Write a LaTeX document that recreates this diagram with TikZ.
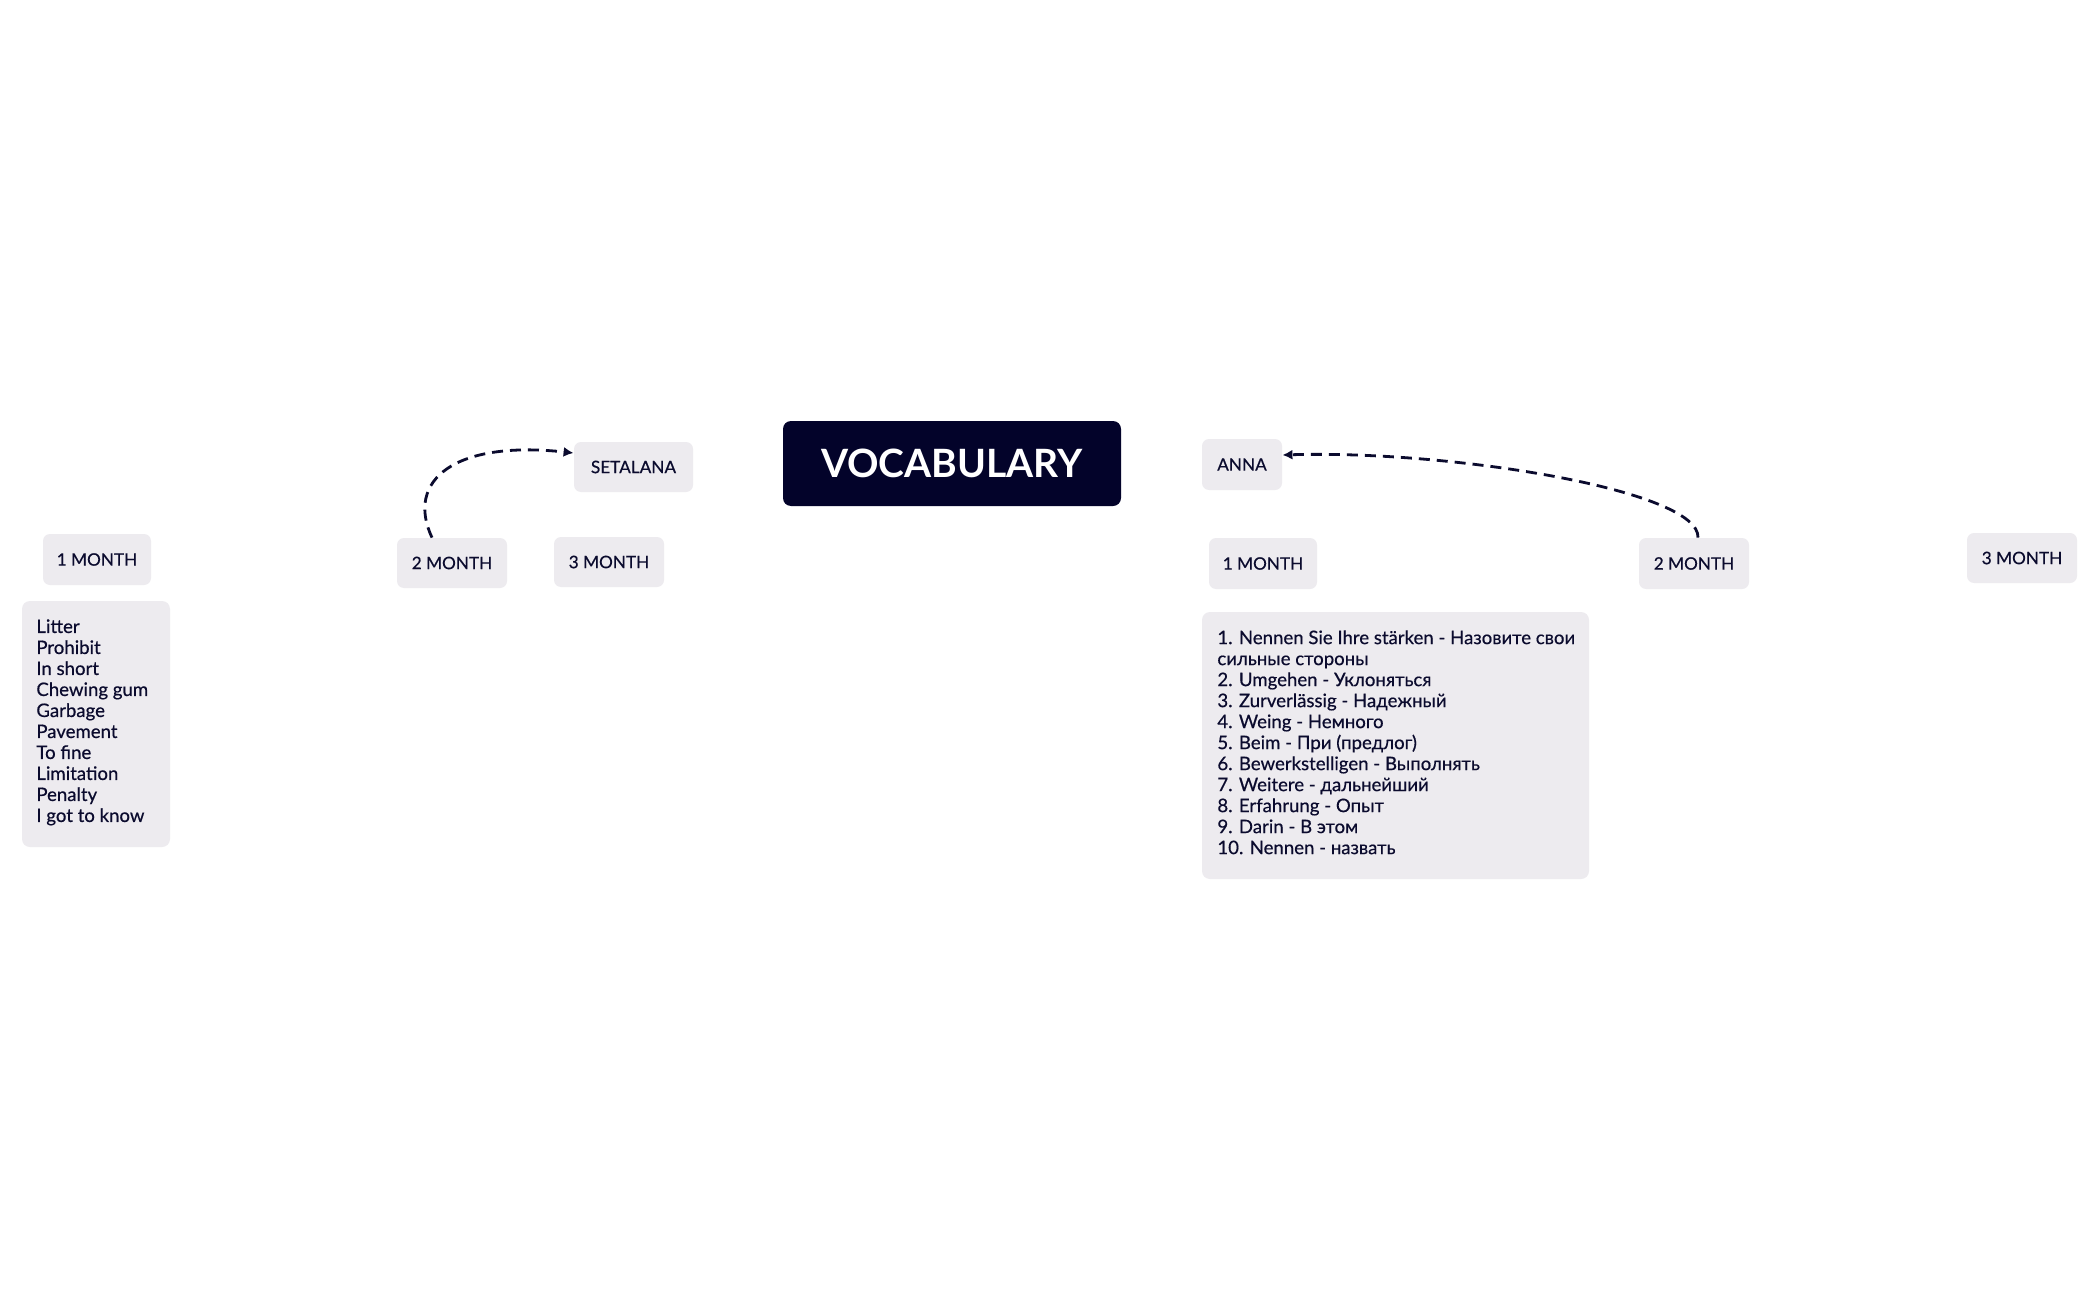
\documentclass[tikz,border=0pt]{standalone}
\usepackage{fontspec}
\setmainfont{Lato}
\newfontfamily\medfont{Lato}[FakeBold=0.5]
\usetikzlibrary{arrows.meta}
\definecolor{ink}{HTML}{0B0B2E}
\definecolor{boxfill}{HTML}{EDEBEF}
\definecolor{navy}{HTML}{03032A}
\tikzset{
  tagbox/.style={fill=boxfill, draw=none, rounded corners=3.5pt, inner sep=0pt,
    minimum height=25.5pt, text=ink, font=\medfont\fontsize{8.6}{11}\selectfont},
  listbox/.style={fill=boxfill, draw=none, rounded corners=4pt, inner sep=0pt},
  listtext/.style={text=ink, inner sep=0pt, align=left, anchor=north west,
    font=\medfont\fontsize{9.3}{10.5}\selectfont},
  titlebox/.style={fill=navy, draw=none, rounded corners=4pt, inner sep=0pt,
    minimum width=169pt, minimum height=42.5pt, text=white,
    font=\fontsize{19.5}{22}\selectfont\bfseries},
  link/.style={draw=ink, line width=1.4pt, dash pattern=on 5.5pt off 3.5pt,
    -{Latex[length=5pt,width=5pt]}},
}
\begin{document}
\begin{tikzpicture}[x=0.5pt,y=-0.5pt]
\useasboundingbox[fill=white] (0,0) rectangle (2099,1300);

% centre
\node[titlebox] (vocab) at (952,463.5) {VOCABULARY};

% left branch
\node[tagbox, minimum width=59.5pt, minimum height=25pt] (setalana) at (633.5,467) {SETALANA};
\node[tagbox, minimum width=54pt] (m1l) at (97,559.5) {1 MONTH};
\node[tagbox, minimum width=55pt, minimum height=25pt] (m2l) at (452,563) {2 MONTH};
\node[tagbox, minimum width=55pt, minimum height=25pt] (m3l) at (609,562) {3 MONTH};
\node[listbox, minimum width=74pt, minimum height=123pt] (list1) at (96,724) {};
\node[listtext] (list1text) at (36,619) {Litter\\Prohibit\\In short\\Chewing gum\\Garbage\\Pavement\\To fine\\Limitation\\Penalty\\I got to know};

% right branch
\node[tagbox, minimum width=40pt] (anna) at (1242,464.5) {ANNA};
\node[tagbox, minimum width=54pt] (m1r) at (1263,563.5) {1 MONTH};
\node[tagbox, minimum width=55pt] (m2r) at (1694,563.5) {2 MONTH};
\node[tagbox, minimum width=55pt, minimum height=25pt] (m3r) at (2022,558) {3 MONTH};
\node[listbox, minimum width=193.5pt, minimum height=133.5pt] (list2) at (1395.5,745.5) {};
\node[listtext] (list2text) at (1217,630) {1. Nennen Sie Ihre stärken - Назовите свои\\сильные стороны\\2. Umgehen - Уклоняться\\3. Zurverlässig - Надежный\\4. Weing - Немного\\5. Beim - При (предлог)\\6. Bewerkstelligen - Выполнять\\7. Weitere - дальнейший\\8. Erfahrung - Опыт\\9. Darin - В этом\\10. Nennen - назвать};

% connectors
\draw[link] ([xshift=-10pt]m2l.north) .. controls (405,480) and (455,440) .. ([yshift=7pt]setalana.west);
\draw[link] ([xshift=2pt]m2r.north) .. controls (1700,490) and (1450,450) .. ([yshift=4.75pt]anna.east);
\end{tikzpicture}
\end{document}
